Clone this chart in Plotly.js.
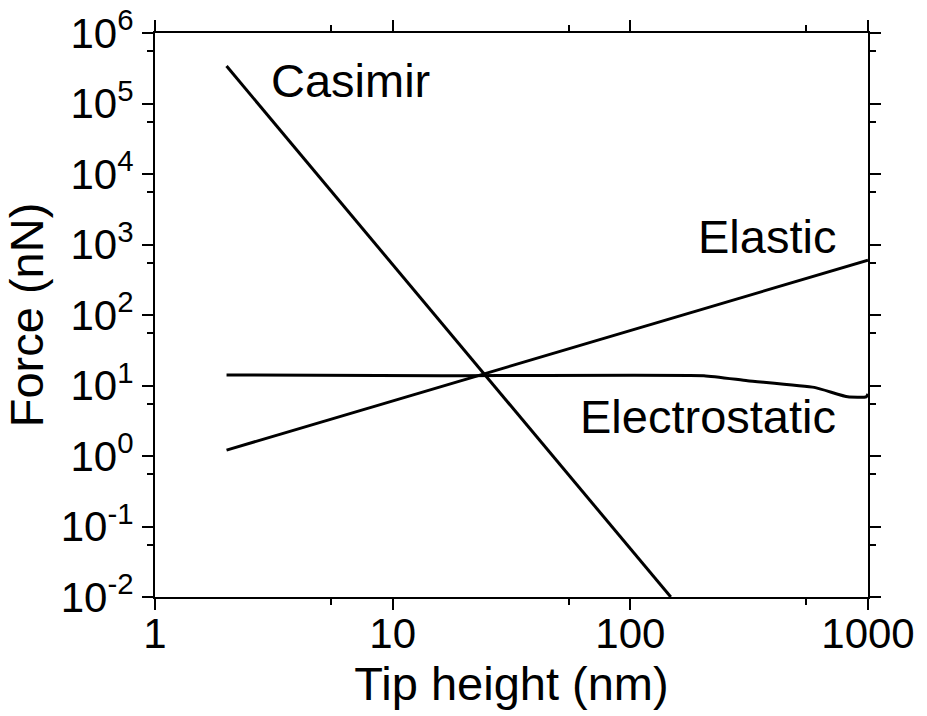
<!DOCTYPE html>
<html>
<head>
<meta charset="utf-8">
<script src="https://cdn.plot.ly/plotly-3.0.1.min.js"></script>
<style>
  html, body { margin: 0; padding: 0; background: #fff; }
  #chart { width: 927px; height: 716px; }
</style>
</head>
<body>
<div id="chart"></div>
<script>
// Data
const casimirX = [2, 148];
const casimirY = [3.4e5, 0.01];

const elasticX = [2, 1000];
const elasticY = [1.21, 600];

const electroX = [2, 16, 204, 311, 594, 822, 982, 1000];
const electroY = [14.1, 13.8, 13.8, 11.7, 9.4, 6.9, 6.9, 7.6];

const xTickVals = [1, 10, 100, 1000];
const xTickText = ['1', '10', '100', '1000'];
const xMinorVals = [5.5, 55, 550];

const yTickVals = [1e-2, 1e-1, 1e0, 1e1, 1e2, 1e3, 1e4, 1e5, 1e6];
const yTickText = ['10<sup>-2</sup>', '10<sup>-1</sup>', '10<sup>0</sup>', '10<sup>1</sup>',
                   '10<sup>2</sup>', '10<sup>3</sup>', '10<sup>4</sup>', '10<sup>5</sup>', '10<sup>6</sup>'];
const yMinorVals = [5.5e-2, 5.5e-1, 5.5, 55, 550, 5.5e3, 5.5e4, 5.5e5];

const labels = ['Casimir', 'Elastic', 'Electrostatic'];

const FONT = 'Liberation Sans, Arial, sans-serif';
const lineStyle = { color: '#000', width: 3 };

const traces = [
  { x: casimirX, y: casimirY, mode: 'lines', name: labels[0], line: lineStyle },
  { x: elasticX, y: elasticY, mode: 'lines', name: labels[1], line: lineStyle },
  { x: electroX, y: electroY, mode: 'lines', name: labels[2], line: Object.assign({}, lineStyle, { shape: 'spline', smoothing: 0.4 }) }
];

const axisCommon = {
  showline: true, linecolor: '#000', linewidth: 2, mirror: 'ticks',
  ticks: 'outside', ticklen: 11, tickwidth: 2, tickcolor: '#000',
  showgrid: false, zeroline: false,
  tickfont: { family: FONT, size: 42, color: '#000' }
};

const layout = {
  width: 927, height: 716,
  margin: { l: 155, r: 59, t: 33, b: 119 },
  paper_bgcolor: '#fff', plot_bgcolor: '#fff',
  showlegend: false,
  font: { family: FONT, color: '#000' },
  xaxis: Object.assign({}, axisCommon, {
    type: 'log', range: [0, 3],
    tickmode: 'array', tickvals: xTickVals, ticktext: xTickText,
    ticklabelstandoff: -12,
    minor: { tickmode: 'array', tickvals: xMinorVals, ticks: 'outside', ticklen: 6, tickwidth: 2, tickcolor: '#000', showgrid: false },
    title: { text: 'Tip height (nm)', font: { family: FONT, size: 47, color: '#000' }, standoff: 6 }
  }),
  yaxis: Object.assign({}, axisCommon, {
    type: 'log', range: [-2, 6],
    tickmode: 'array', tickvals: yTickVals, ticktext: yTickText,
    minor: { tickmode: 'array', tickvals: yMinorVals, ticks: 'outside', ticklen: 6, tickwidth: 2, tickcolor: '#000', showgrid: false },
    title: { text: 'Force (nN)', font: { family: FONT, size: 47, color: '#000' }, standoff: 8 }
  }),
  annotations: [
    { text: labels[0], x: 0.822, y: 5.33, xref: 'x', yref: 'y', showarrow: false,
      xanchor: 'center', yanchor: 'middle', font: { family: FONT, size: 47, color: '#000' } },
    { text: labels[1], x: 2.575, y: 3.109, xref: 'x', yref: 'y', showarrow: false,
      xanchor: 'center', yanchor: 'middle', font: { family: FONT, size: 47, color: '#000' } },
    { text: labels[2], x: 2.325, y: 0.56, xref: 'x', yref: 'y', showarrow: false,
      xanchor: 'center', yanchor: 'middle', font: { family: FONT, size: 47, color: '#000' } }
  ]
};

Plotly.newPlot('chart', traces, layout, { displayModeBar: false, staticPlot: true });
</script>
</body>
</html>
